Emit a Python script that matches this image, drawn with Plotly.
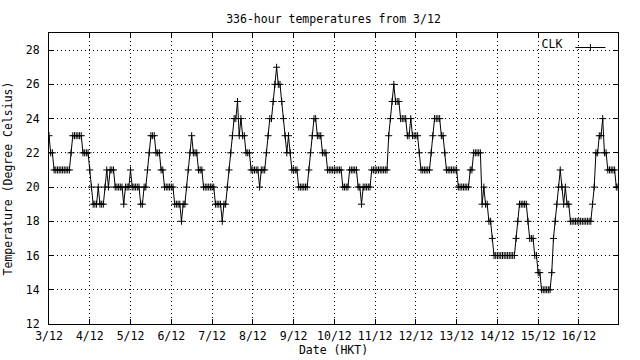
import plotly.graph_objects as go

# Hourly temperatures (deg C), one list per day starting 3/12 00:00
day_03 = [23,22,22,21,21,21,21,21,21,21,21,21,21,22,23,23,23,23,23,23,22,22,22,22]
day_04 = [21,20,19,19,19,20,19,19,19,20,21,20,21,21,21,20,20,20,20,20,19,20,20,20]
day_05 = [21,20,20,20,20,20,19,19,20,20,21,22,23,23,23,22,22,22,21,21,20,20,20,20]
day_06 = [20,20,19,19,19,19,18,19,19,20,21,22,23,22,22,22,21,21,21,20,20,20,20,20]
day_07 = [20,20,19,19,19,19,18,19,19,20,21,22,23,24,24,25,23,24,23,23,22,22,22,21]
day_08 = [21,21,21,21,20,21,21,21,22,23,24,24,25,26,27,26,26,25,24,23,22,23,22,21]
day_09 = [21,21,21,20,20,20,20,20,20,21,22,23,24,24,23,23,23,22,22,22,21,21,21,21]
day_10 = [21,21,21,21,21,20,20,20,20,21,21,21,21,21,20,20,19,20,20,20,20,20,21,21]
day_11 = [21,21,21,21,21,21,21,21,23,24,25,26,25,25,25,24,24,24,24,23,23,24,23,23]
day_12 = [23,23,22,21,21,21,21,21,21,22,23,24,24,24,24,23,23,22,21,21,21,21,21,21]
day_13 = [21,20,20,20,20,20,20,20,21,21,22,22,22,22,22,19,20,19,19,18,18,17,16,16]
day_14 = [16,16,16,16,16,16,16,16,16,16,16,17,18,19,19,19,19,19,18,17,17,17,16,16]
day_15 = [15,15,14,14,14,14,14,14,15,17,18,19,20,21,20,19,20,19,19,18,18,18,18,18]
day_16 = [18,18,18,18,18,18,18,18,19,20,22,22,23,23,24,22,22,21,21,21,21,21,20,20]

day_labels = ["3/12","4/12","5/12","6/12","7/12","8/12","9/12",
              "10/12","11/12","12/12","13/12","14/12","15/12","16/12"]
y_ticks = [12,14,16,18,20,22,24,26,28]

temps = (day_03 + day_04 + day_05 + day_06 + day_07 + day_08 + day_09 +
         day_10 + day_11 + day_12 + day_13 + day_14 + day_15 + day_16)
hours = list(range(len(temps)))
day_ticks = [24 * i for i in range(len(day_labels))]

FONT = "DejaVu Sans Mono"
FS = 11.5

fig = go.Figure()
fig.add_trace(go.Scatter(
    x=hours, y=temps, mode="lines+markers", name=" ",
    line=dict(color="black", width=1),
    marker=dict(symbol="cross-thin", size=5, color="black",
                line=dict(color="black", width=1)),
))

axis_common = dict(
    showline=True, linecolor="black", linewidth=1, mirror="ticks",
    ticks="inside", ticklen=5, tickcolor="black", tickwidth=1,
    showgrid=True, gridcolor="black", gridwidth=1, griddash="1px,3px",
    zeroline=False, automargin=False,
    tickfont=dict(family=FONT, size=FS, color="black"),
)

fig.update_xaxes(
    range=[0, 335], tickvals=day_ticks, ticktext=day_labels,
    title=dict(text="Date (HKT)", font=dict(family=FONT, size=FS, color="black"),
               standoff=4),
    ticklabelstandoff=1,
    **axis_common,
)
fig.update_yaxes(
    range=[12, 29], tickvals=y_ticks,
    title=dict(text="Temperature (Degree Celsius)",
               font=dict(family=FONT, size=FS, color="black"), standoff=10),
    ticklabelstandoff=6,
    **axis_common,
)

fig.update_layout(
    width=640, height=360,
    margin=dict(l=49, r=22, t=33, b=36),
    paper_bgcolor="white", plot_bgcolor="white",
    font=dict(family=FONT, size=FS, color="black"),
    title=dict(text="336-hour temperatures from 3/12", x=0.5, xref="paper",
               xanchor="center", y=1 - 19 / 360, yref="container", yanchor="middle",
               font=dict(family=FONT, size=FS, color="black")),
    showlegend=True,
    legend=dict(
        orientation="h", x=1.008, xanchor="right", y=1.0, yanchor="top",
        bgcolor="rgba(0,0,0,0)", borderwidth=0,
        title=dict(text="CLK", side="left",
                   font=dict(family=FONT, size=FS, color="black")),
        font=dict(family=FONT, size=FS, color="black"),
        itemwidth=30,
    ),
)

fig.write_html("out.html", config={"displayModeBar": False},
               post_script="document.body.style.margin='0';")
